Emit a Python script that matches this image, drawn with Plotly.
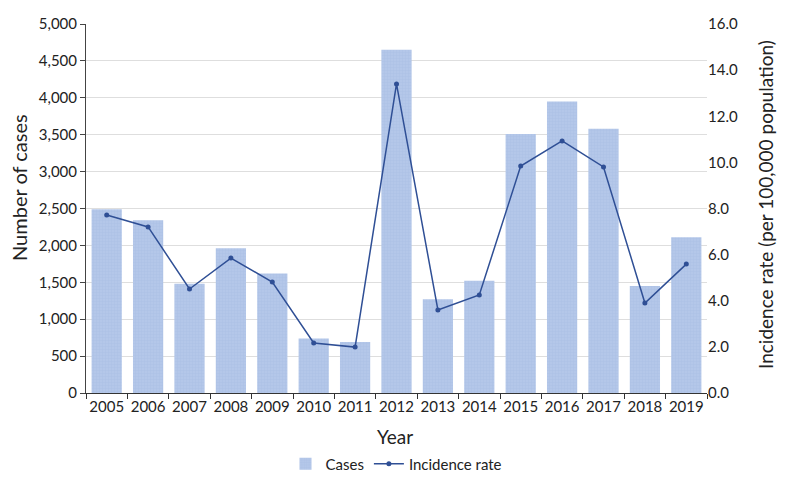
import plotly.graph_objects as go

years = ["2005", "2006", "2007", "2008", "2009", "2010", "2011", "2012",
         "2013", "2014", "2015", "2016", "2017", "2018", "2019"]
cases = [2490, 2340, 1480, 1960, 1620, 740, 690, 4650, 1270, 1520,
         3510, 3950, 3580, 1450, 2110]
rate = [7.72, 7.2, 4.51, 5.85, 4.81, 2.17, 1.99, 13.4, 3.6, 4.25,
        9.84, 10.93, 9.8, 3.9, 5.59]

left_ticks = [0, 500, 1000, 1500, 2000, 2500, 3000, 3500, 4000, 4500, 5000]
right_ticks = [0, 2, 4, 6, 8, 10, 12, 14, 16]

FONT = "Lato"
OFF = 8                      # page body margin
W, H = 792 - OFF, 483 - OFF
# screen-space plot box: left 86, right 707, top 24, bottom 393
L, R, T, B = 86 - OFF, W - (707 - OFF), 24 - OFF, H - (393 - OFF)

fig = go.Figure()
fig.add_trace(go.Bar(
    x=years, y=cases, name="Cases",
    marker=dict(color="#b1c5e8", line=dict(width=0),
                pattern=dict(shape="+", fgcolor="#a3b8e0", bgcolor="#b4c7e9",
                             size=3, solidity=0.3)),
))
fig.add_trace(go.Scatter(
    x=years, y=rate, name="Incidence rate", yaxis="y2",
    mode="lines+markers",
    line=dict(color="#2f4f95", width=1.5),
    marker=dict(color="#2f4f95", size=5),
))

pw, ph = W - L - R, H - T - B


def px(sx):
    return (sx - OFF - L) / pw


def py(sy):
    return (H - (sy - OFF) - B) / ph


fig.update_layout(
    width=W, height=H,
    margin=dict(l=L, r=R, t=T, b=B, autoexpand=False),
    plot_bgcolor="white", paper_bgcolor="white",
    font=dict(family=FONT, size=15, color="#222"),
    bargap=0.27,
    showlegend=True,
    legend=dict(orientation="h", x=0.5, xanchor="center",
                yref="container", y=(H - (464 - OFF)) / H, yanchor="middle",
                font=dict(size=15), traceorder="normal"),
    xaxis=dict(
        automargin=False, tickangle=0, range=[-0.5, len(years) - 0.5],
        showline=True, linecolor="#333", linewidth=1,
        ticks="outside", tickson="boundaries", ticklen=5, tickcolor="#333",
        tickfont=dict(size=15), showgrid=False,
    ),
    yaxis=dict(
        automargin=False,
        range=[0, 5000], tickvals=left_ticks,
        tickformat=",", showline=True, linecolor="#444", linewidth=1,
        ticks="outside", ticklen=5, tickcolor="#444",
        showgrid=True, gridcolor="#dedede", zeroline=False,
        tickfont=dict(size=15),
    ),
    yaxis2=dict(
        automargin=False,
        overlaying="y", side="right", range=[0, 16], tickvals=right_ticks,
        tickformat=".1f", showline=False, ticks="",
        showgrid=False, zeroline=False, tickfont=dict(size=15),
    ),
    annotations=[
        dict(text="Number of cases", x=px(19), y=py(188), xref="paper", yref="paper",
             showarrow=False, textangle=-90, font=dict(size=20),
             xanchor="center", yanchor="middle"),
        dict(text="Incidence rate (per 100,000 population)", x=px(765), y=py(205),
             xref="paper", yref="paper", showarrow=False, textangle=-90,
             font=dict(size=19), xanchor="center", yanchor="middle"),
        dict(text="Year", x=px(395), y=py(436), xref="paper", yref="paper",
             showarrow=False, font=dict(size=19),
             xanchor="center", yanchor="middle"),
    ],
)

fig.write_html("out.html")
